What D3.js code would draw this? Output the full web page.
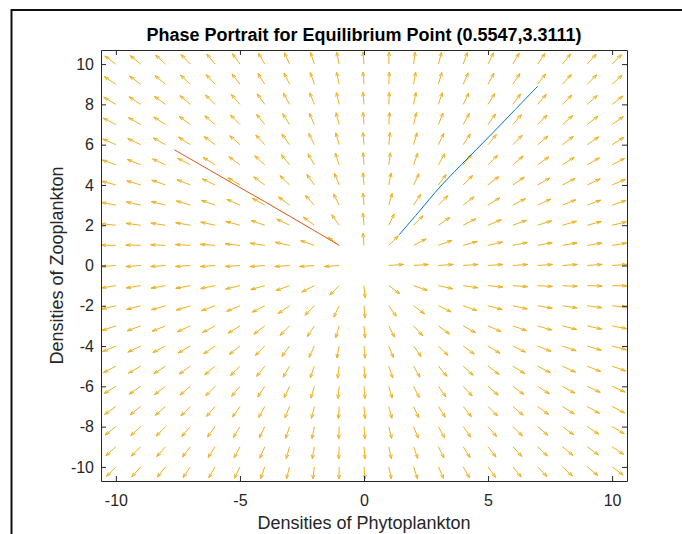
<!DOCTYPE html>
<html>
<head>
<meta charset="utf-8">
<script src="https://cdn.jsdelivr.net/npm/d3@7"></script>
<style>
  body { margin: 0; background: #fff; }
  text { font-family: Arial, "Liberation Sans", Helvetica, sans-serif; fill: #262626; }
</style>
</head>
<body>
<div id="chart"></div>
<script>
// quiver grid
const gridX = [-10,-9,-8,-7,-6,-5,-4,-3,-2,-1,0,1,2,3,4,5,6,7,8,9,10]
const gridY = [10,9,8,7,6,5,4,3,2,1,0,-1,-2,-3,-4,-5,-6,-7,-8,-9,-10]

// arrow directions (degrees, data space) read row by row, x = -10 .. 10
const angY10 = [138,135,132,128,124,120,115,110,105,100,94,89,84,78,74,69,65,61,57,54,51]
const angY9 = [141,138,135,131,127,122,117,112,106,100,94,88,82,77,71,67,62,58,54,51,48]
const angY8 = [144,141,138,134,130,125,120,114,108,101,94,88,81,75,69,64,59,55,51,48,44]
const angY7 = [148,145,142,138,134,129,123,117,110,102,94,87,79,72,66,60,55,51,47,44,41]
const angY6 = [152,150,146,142,138,133,127,120,112,103,94,85,77,69,62,56,51,46,43,40,37]
const angY5 = [157,154,151,148,143,138,132,124,115,105,94,84,74,65,57,51,46,41,38,35,32]
const angY4 = [162,160,157,154,150,144,138,130,120,108,94,81,69,59,51,44,40,35,32,30,27]
const angY3 = [167,165,163,160,157,152,146,138,127,112,94,77,62,51,43,37,32,29,26,24,22]
const angY2 = [173,171,170,168,165,162,157,150,138,120,94,69,51,40,32,27,24,21,19,18,16]
const angY1 = [179,178,177,176,175,173,170,165,157,138,94,51,32,24,19,16,14,13,12,11,11]
const angY0 = [185,185,185,185,185,185,185,185,185,185,null,5,5,5,5,5,5,5,5,5,5]
const angYm1 = [191,191,192,193,194,196,199,204,212,231,274,318,337,345,350,353,355,356,357,358,359]
const angYm2 = [196,198,199,201,204,207,212,220,231,249,274,300,318,330,337,342,345,348,350,351,353]
const angYm3 = [202,204,206,209,212,217,223,231,242,257,274,292,307,318,326,332,337,340,343,345,347]
const angYm4 = [207,210,212,215,220,224,231,239,249,261,274,288,300,310,318,324,330,334,337,340,342]
const angYm5 = [212,215,218,221,226,231,237,245,254,264,274,285,295,304,312,318,323,328,331,334,337]
const angYm6 = [217,220,223,226,231,236,242,249,257,265,274,283,292,300,307,313,318,322,326,330,332]
const angYm7 = [221,224,227,231,235,240,246,252,259,267,274,282,290,297,303,309,314,318,322,325,328]
const angYm8 = [224,228,231,235,239,244,249,255,261,268,274,281,288,294,300,305,310,314,318,321,324]
const angYm9 = [228,231,234,238,242,247,251,257,262,268,274,280,286,292,297,302,307,311,315,318,321]
const angYm10 = [231,234,237,241,245,249,254,258,264,269,274,280,285,290,295,300,304,308,312,315,318]

const angleRows = [angY10, angY9, angY8, angY7, angY6, angY5, angY4, angY3, angY2, angY1, angY0,
  angYm1, angYm2, angYm3, angYm4, angYm5, angYm6, angYm7, angYm8, angYm9, angYm10]

// trajectories
const blueX = [1.4, 2.2, 3.1, 4.2, 5.2, 6.1, 7.0]
const blueY = [1.5, 2.65, 3.95, 5.35, 6.6, 7.75, 8.9]
const redX = [-1.0, -2.0, -3.0, -4.0, -5.0, -6.0, -7.0, -7.65]
const redY = [1.0, 1.73, 2.45, 3.17, 3.87, 4.58, 5.29, 5.75]

const xTicks = [-10, -5, 0, 5, 10]
const yTicks = [-10, -8, -6, -4, -2, 0, 2, 4, 6, 8, 10]

const titleText = 'Phase Portrait for Equilibrium Point (0.5547,3.3111)'
const xLabel = 'Densities of Phytoplankton'
const yLabel = 'Densities of Zooplankton'

var margin = { top: 50, right: 55, bottom: 53, left: 101 }
var width = 682 - margin.left - margin.right
var height = 534 - margin.top - margin.bottom
var arrowLen = 0.6

var x = d3.scaleLinear().domain([-10.6, 10.6]).range([0, width])
var y = d3.scaleLinear().domain([-10.7, 10.7]).range([height, 0])

var svg = d3.select('#chart').append('svg')
  .attr('width', 682)
  .attr('height', 534)

// page frame
svg.append('path')
  .attr('d', 'M11.5,534V10H682')
  .attr('fill', 'none')
  .attr('stroke', '#111')
  .attr('stroke-width', 2)

var g = svg.append('g')
  .attr('transform', 'translate(' + margin.left + ',' + margin.top + ')')

g.append('clipPath').attr('id', 'plotClip')
  .append('rect').attr('width', width).attr('height', height)

var arrows = []
gridY.forEach(function (gy, i) {
  gridX.forEach(function (gx, j) {
    let a = angleRows[i][j]
    if (a != null) arrows.push({ x: gx, y: gy, a: a })
  })
})

let arrowPath = (d) => {
  let t = d.a * Math.PI / 180
  let u = arrowLen * Math.cos(t)
  let v = arrowLen * Math.sin(t)
  let tx = d.x + u, ty = d.y + v
  let al = 0.33, be = 0.33
  let h1x = tx - al * (u + be * v), h1y = ty - al * (v - be * u)
  let h2x = tx - al * (u - be * v), h2y = ty - al * (v + be * u)
  return 'M' + x(d.x) + ',' + y(d.y) + 'L' + x(tx) + ',' + y(ty) +
    'M' + x(h1x) + ',' + y(h1y) + 'L' + x(tx) + ',' + y(ty) + 'L' + x(h2x) + ',' + y(h2y)
}

var plot = g.append('g').attr('clip-path', 'url(#plotClip)')

plot.selectAll('.arrow')
  .data(arrows)
  .enter().append('path')
  .attr('class', 'arrow')
  .attr('d', arrowPath)
  .attr('fill', 'none')
  .attr('stroke', '#EDB120')
  .attr('stroke-width', 1)

var line = d3.line()
  .x(function (d) { return x(d[0]) })
  .y(function (d) { return y(d[1]) })
  .curve(d3.curveCatmullRom)

plot.append('path')
  .datum(blueX.map((v, i) => [v, blueY[i]]))
  .attr('d', line)
  .attr('fill', 'none')
  .attr('stroke', '#0072BD')
  .attr('stroke-width', 1)

plot.append('path')
  .datum(redX.map((v, i) => [v, redY[i]]))
  .attr('d', line)
  .attr('fill', 'none')
  .attr('stroke', '#D95319')
  .attr('stroke-width', 1)

// axes, ticks pointing inward
var styleAxis = (sel) => {
  sel.select('.domain').attr('stroke', '#262626')
  sel.selectAll('.tick line').attr('stroke', '#262626')
  sel.selectAll('text').attr('font-size', '16px').style('fill', '#262626')
}

var plainNum = (d) => String(d)

g.append('g')
  .attr('transform', 'translate(0,' + height + ')')
  .call(d3.axisBottom(x).tickValues(xTicks).tickSize(-5).tickSizeOuter(0).tickPadding(14).tickFormat(plainNum))
  .call(styleAxis)

g.append('g')
  .call(d3.axisTop(x).tickValues(xTicks).tickSize(-5).tickSizeOuter(0).tickFormat(''))
  .call(styleAxis)

g.append('g')
  .call(d3.axisLeft(y).tickValues(yTicks).tickSize(-5).tickSizeOuter(0).tickPadding(7).tickFormat(plainNum))
  .call(styleAxis)

g.append('g')
  .attr('transform', 'translate(' + width + ',0)')
  .call(d3.axisRight(y).tickValues(yTicks).tickSize(-5).tickSizeOuter(0).tickFormat(''))
  .call(styleAxis)

g.selectAll('.domain').attr('fill', 'none')

svg.append('text')
  .attr('x', margin.left + width / 2)
  .attr('y', 41)
  .attr('text-anchor', 'middle')
  .attr('font-size', '18px')
  .attr('font-weight', 'bold')
  .style('fill', '#000')
  .text(titleText)

svg.append('text')
  .attr('x', margin.left + width / 2)
  .attr('y', 529)
  .attr('text-anchor', 'middle')
  .attr('font-size', '18px')
  .text(xLabel)

svg.append('text')
  .attr('transform', 'translate(63,' + (margin.top + height / 2) + ') rotate(-90)')
  .attr('text-anchor', 'middle')
  .attr('font-size', '18px')
  .text(yLabel)
</script>
</body>
</html>
